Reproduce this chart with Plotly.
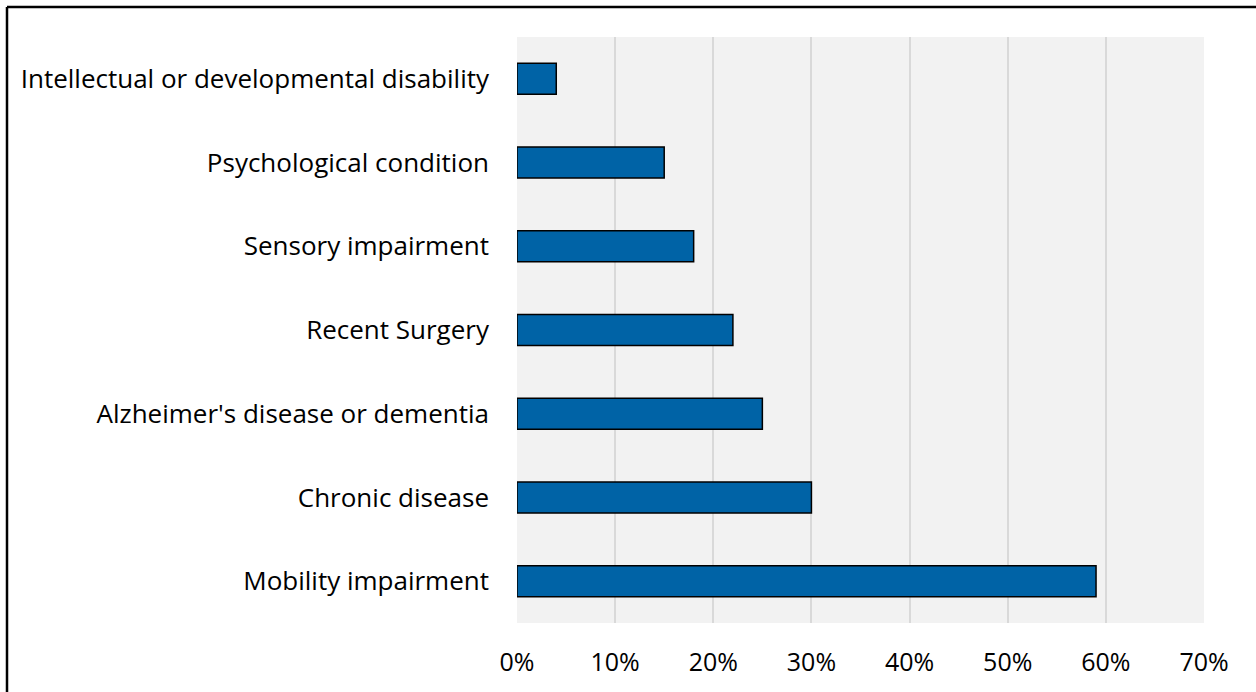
import plotly.graph_objects as go

categories = [
    "Mobility impairment",
    "Chronic disease",
    "Alzheimer's disease or dementia",
    "Recent Surgery",
    "Sensory impairment",
    "Psychological condition",
    "Intellectual or developmental disability",
]
shares = [0.59, 0.30, 0.25, 0.22, 0.18, 0.15, 0.04]
tick_values = [0, 0.1, 0.2, 0.3, 0.4, 0.5, 0.6, 0.7]
tick_labels = ["0%", "10%", "20%", "30%", "40%", "50%", "60%", "70%"]

W, H = 1256, 692
ML, MR, MT, MB = 517, 52, 37, 69
FONT = "Open Sans"

fig = go.Figure(
    go.Bar(
        x=shares,
        y=categories,
        orientation="h",
        width=0.37,
        marker=dict(color="#0063A6", line=dict(color="#000000", width=1.5)),
        hoverinfo="x+y",
    )
)

# outer frame: only top and left edges fall inside the page
px = lambda v: (v - ML) / (W - ML - MR)
py = lambda v: 1 - (v - MT) / (H - MT - MB)
fig.add_shape(type="line", xref="paper", yref="paper",
              x0=px(7), x1=px(1262), y0=py(7), y1=py(7),
              line=dict(color="#000000", width=2.5))
fig.add_shape(type="line", xref="paper", yref="paper",
              x0=px(7), x1=px(7), y0=py(7), y1=py(700),
              line=dict(color="#000000", width=2.5))

fig.update_layout(
    width=W,
    height=H,
    margin=dict(l=ML, r=MR, t=MT, b=MB, pad=0),
    paper_bgcolor="#FFFFFF",
    plot_bgcolor="#F2F2F2",
    showlegend=False,
    font=dict(family=FONT, size=26, color="#000000"),
    xaxis=dict(
        range=[0, 0.7],
        tickvals=tick_values,
        ticktext=tick_labels,
        tickfont=dict(size=25),
        showgrid=True,
        gridcolor="#D9D9D9",
        gridwidth=1.5,
        zeroline=False,
        showline=False,
        ticks="",
        ticklabelstandoff=22,
        fixedrange=True,
    ),
    yaxis=dict(
        showgrid=False,
        zeroline=False,
        showline=False,
        ticks="",
        ticklabelstandoff=27,
        range=[-0.5, 6.5],
        fixedrange=True,
    ),
)

fig.write_html("out.html")
